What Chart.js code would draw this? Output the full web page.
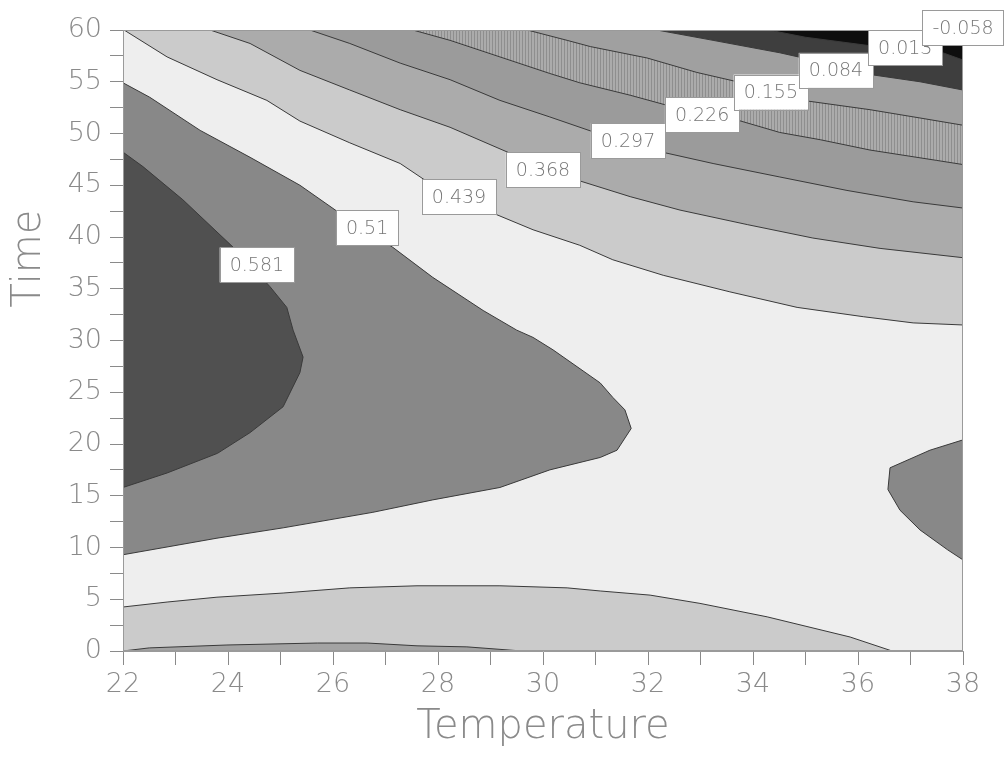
<!DOCTYPE html>
<html>
<head>
<meta charset="utf-8">
<script src="https://cdn.jsdelivr.net/npm/chart.js@4"></script>
<style>
  html, body { margin: 0; padding: 0; background: #fff; }
  #wrap { width: 1006px; height: 762px; }
</style>
</head>
<body>
<div id="wrap"><canvas id="contourChart"></canvas></div>
<script>
// contour lines, as [temperature, time] pairs
const c439top = [[22.02,60],[22.84,57.4],[23.79,55.2],[24.74,53.2],[25.37,51.2],[26.32,49.1],[27.28,47.1],[27.75,45.5],[29.05,42.3],[29.81,40.7],[30.7,39.2],[31.33,37.8],[32.29,36.3],[33.56,34.7],[34.84,33.2],[36.1,32.3],[37.05,31.7],[38,31.5]];
const c368top = [[23.66,60],[24.42,58.7],[25.37,56.1],[26.32,54.2],[27.28,52.3],[28.23,50.6],[29.37,48.1],[30.65,45.5],[31.66,43.9],[32.61,42.6],[33.89,41.2],[35.14,39.9],[36.42,38.9],[38,38.0]];
const c297top = [[25.56,60],[26.32,58.7],[27.28,56.8],[28.23,55.2],[29.18,53.2],[30.13,51.6],[30.99,50.1],[32.27,48.2],[33.24,47.1],[34.51,45.8],[35.79,44.5],[37.05,43.4],[38,42.8]];
const c226top = [[27.52,60],[28.23,59.0],[29.18,57.4],[30.13,55.8],[30.7,54.9],[31.66,53.7],[32.38,52.7],[33.7,51.3],[34.51,50.1],[35.28,49.4],[36.23,48.4],[37.5,47.4],[38,47.0]];
const c155top = [[29.7,60],[30.46,59.0],[30.9,58.4],[31.98,57.3],[32.93,55.9],[33.7,55.0],[34.95,53.2],[36.23,52.3],[37.18,51.5],[38,50.8]];
const c084top = [[32.17,60],[33.24,59.0],[34.51,57.8],[34.95,57.3],[36.23,55.7],[37.18,55.0],[38,54.2]];
const c013top = [[34.3,60],[35.0,59.3],[36.2,58.5],[37.56,57.9],[38,57.1]];

const c439bottom = [[22,4.25],[22.84,4.73],[23.79,5.2],[25.05,5.6],[26.32,6.1],[27.6,6.3],[29.18,6.3],[30.46,6.1],[31.09,5.8],[32.04,5.4],[32.99,4.6],[34.27,3.3],[35.85,1.35],[36.65,0]];
const c368bottom = [[22,0],[22.5,0.3],[23.98,0.58],[25.7,0.77],[26.65,0.77],[27.6,0.5],[28.55,0.4],[29.6,0]];

const c510upper = [[22,54.9],[22.51,53.5],[23.47,50.3],[24.42,47.7],[25.37,45.0],[26.13,42.3],[27.14,39.0],[27.9,36.1],[28.86,32.9],[29.5,31.0],[29.81,30.3],[30.19,29.1],[31.09,25.9],[31.33,24.5],[31.56,23.3],[31.68,21.5]];
const c510lower = [[22,9.3],[23.79,10.9],[25.05,11.9],[26.76,13.4],[27.9,14.6],[29.18,15.8],[30.13,17.5],[31.09,18.7],[31.41,19.4],[31.68,21.5]];
const c581upper = [[22,48.2],[22.38,46.8],[23.14,43.6],[24.1,39.0],[24.8,35.2],[25.12,33.2],[25.24,31.0],[25.43,28.4]];
const c581lower = [[22,15.8],[22.84,17.2],[23.8,19.1],[24.42,21.1],[25.05,23.6],[25.37,26.9],[25.43,28.4]];
const islandUpper = [[36.57,15.6],[36.61,17.7],[37.37,19.4],[38,20.4]];
const islandLower = [[36.57,15.6],[36.8,13.6],[37.18,11.7],[37.7,9.8],[38,8.8]];

// contour labels
const labelText = ['0.581','0.51','0.439','0.368','0.297','0.226','0.155','0.084','0.013','-0.058'];
const labelTemp = [24.55, 26.65, 28.4, 30.0, 31.62, 33.03, 34.34, 35.58, 36.9, 38.0];
const labelTime = [37.3, 40.9, 43.9, 46.5, 49.3, 51.8, 54.0, 56.1, 58.3, 60.2];

const FONT = "'DejaVu Sans', sans-serif";

// vertical hatching used for the 0.155-0.226 band
function makeHatch() {
  const c = document.createElement('canvas');
  c.width = 3; c.height = 1;
  const g = c.getContext('2d');
  g.fillStyle = '#ababab'; g.fillRect(0, 0, 3, 1);
  g.fillStyle = '#8e8e8e'; g.fillRect(0, 0, 1, 1);
  return g.createPattern(c, 'repeat');
}

const toXY = pts => pts.map(p => ({ x: p[0], y: p[1] }));

function band(data, color, fill) {
  return {
    data: toXY(data),
    borderColor: '#3a3a3a',
    borderWidth: 1,
    backgroundColor: color,
    fill: fill,
    pointRadius: 0,
    tension: 0
  };
}

const datasets = [
  band(c439top, '#cbcbcb', 'end'),
  band(c368top, '#ababab', 'end'),
  band(c297top, '#9b9b9b', 'end'),
  band(c226top, makeHatch(), 'end'),
  band(c155top, '#a0a0a0', 'end'),
  band(c084top, '#3e3e3e', 'end'),
  band(c013top, '#0e0e0e', 'end'),
  band(c439bottom, '#cbcbcb', 'start'),
  band(c368bottom, '#a3a3a3', 'start'),
  band(c510upper, '#888888', 10),
  band(c510lower, 'transparent', false),
  band(c581upper, '#505050', 12),
  band(c581lower, 'transparent', false),
  band(islandUpper, '#888888', 14),
  band(islandLower, 'transparent', false)
];
datasets.forEach((d, i) => { d.order = -i; });

const decorations = {
  id: 'decorations',
  beforeDraw(chart) {
    const a = chart.chartArea, ctx = chart.ctx;
    ctx.save();
    ctx.fillStyle = '#eeeeee';
    ctx.fillRect(a.left, a.top, a.right - a.left, a.bottom - a.top);
    ctx.restore();
  },
  afterDatasetsDraw(chart) {
    const a = chart.chartArea, ctx = chart.ctx;
    const xs = chart.scales.x, ys = chart.scales.y;
    ctx.save();
    ctx.strokeStyle = '#9a9a9a';
    ctx.lineWidth = 1;
    ctx.strokeRect(a.left + 0.5, a.top + 0.5, a.right - a.left - 1, a.bottom - a.top - 1);

    ctx.font = '200 19px ' + FONT;
    ctx.textAlign = 'center';
    ctx.textBaseline = 'middle';
    labelText.forEach((t, i) => {
      const x = xs.getPixelForValue(labelTemp[i]);
      const y = ys.getPixelForValue(labelTime[i]);
      const w = ctx.measureText(t).width + 20;
      const h = 35;
      ctx.fillStyle = '#ffffff';
      ctx.fillRect(x - w / 2, y - h / 2, w, h);
      ctx.strokeStyle = '#9a9a9a';
      ctx.strokeRect(Math.round(x - w / 2) + 0.5, Math.round(y - h / 2) + 0.5, Math.round(w), h);
      ctx.fillStyle = '#777777';
      ctx.fillText(t, x, y + 1);
    });

    // y axis title
    ctx.font = '200 40px ' + FONT;
    ctx.fillStyle = '#8a8a8a';
    ctx.translate(30, a.top + (a.bottom - a.top) * 0.368);
    ctx.rotate(-Math.PI / 2);
    ctx.fillText('Time', 0, 0);
    ctx.restore();
  }
};

const tickFont = { family: FONT, size: 27, weight: '200' };

new Chart(document.getElementById('contourChart'), {
  type: 'line',
  data: { datasets: datasets },
  options: {
    responsive: true,
    maintainAspectRatio: false,
    animation: false,
    events: [],
    layout: { padding: { top: 30, right: 43, left: 0, bottom: 0 } },
    plugins: {
      legend: { display: false },
      tooltip: { enabled: false },
      filler: { drawTime: 'beforeDatasetsDraw' }
    },
    scales: {
      x: {
        type: 'linear',
        min: 22,
        max: 38,
        ticks: {
          stepSize: 1,
          autoSkip: false,
          maxRotation: 0,
          padding: 4,
          color: '#8a8a8a',
          font: tickFont,
          callback: v => (v % 2 === 0 ? String(v) : '')
        },
        grid: { drawOnChartArea: false, tickLength: 14, color: '#8a8a8a' },
        border: { color: '#9a9a9a' },
        title: {
          display: true,
          text: 'Temperature',
          color: '#8a8a8a',
          font: { family: FONT, size: 40, weight: '200' },
          padding: { top: 0, bottom: 10 }
        },
        afterFit: s => { s.height = 111; }
      },
      y: {
        type: 'linear',
        min: 0,
        max: 60,
        ticks: {
          stepSize: 2.5,
          autoSkip: false,
          padding: 8,
          color: '#8a8a8a',
          font: tickFont,
          callback: v => (v % 5 === 0 ? String(v) : '')
        },
        grid: { drawOnChartArea: false, tickLength: 13, color: '#8a8a8a' },
        border: { color: '#9a9a9a' },
        afterFit: s => { s.width = 123; }
      }
    }
  },
  plugins: [decorations]
});
</script>
</body>
</html>
